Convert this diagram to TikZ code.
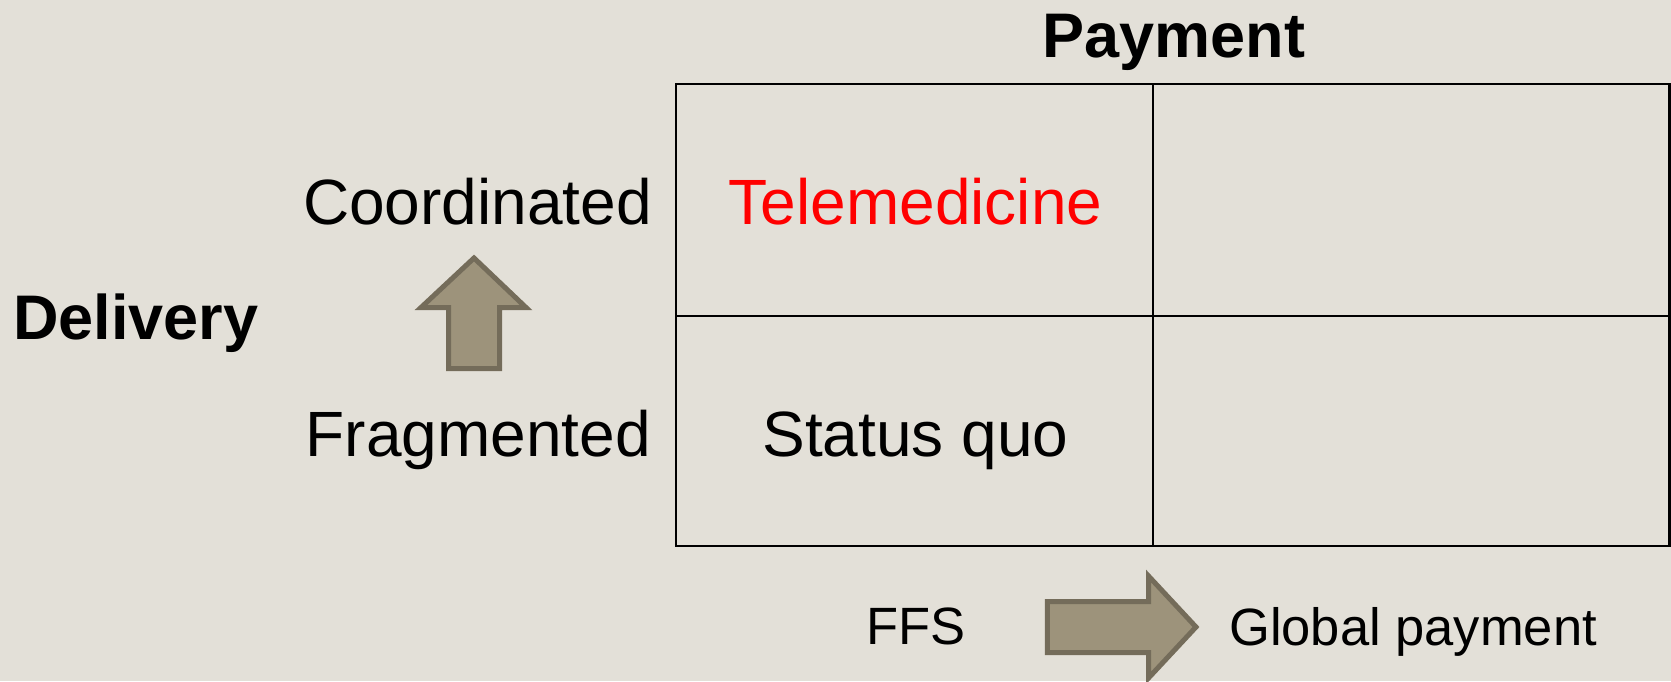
\documentclass[tikz,border=0pt]{standalone}
\usepackage{fontspec}
\setmainfont{Liberation Sans}
\definecolor{bg}{RGB}{227,224,216}
\definecolor{arrowfill}{RGB}{157,147,123}
\definecolor{arrowedge}{RGB}{116,108,90}
\begin{document}
\begin{tikzpicture}[x=1pt,y=-1pt,
  lbl/.style={inner sep=0pt, font=\fontsize{64}{70}\selectfont},
  headlbl/.style={inner sep=0pt, font=\fontsize{63}{70}\selectfont\bfseries},
  axislbl/.style={inner sep=0pt, font=\fontsize{52.5}{60}\selectfont},
  gridline/.style={line width=2.4pt, black},
  blockarrow/.style={fill=arrowfill, draw=arrowedge, line width=5pt, line join=miter, miter limit=10}]
% canvas
\fill[bg] (0,0) rectangle (1671,681);
\useasboundingbox (0,0) rectangle (1671,681);

% 2x2 matrix
\coordinate (tl) at (676,84);
\coordinate (br) at (1669.5,546);
\coordinate (midtop) at (1153,84);
\coordinate (midbot) at (1153,546);
\coordinate (midleft) at (676,316);
\coordinate (midright) at (1669.5,316);
\draw[gridline] (tl) rectangle (br);
\draw[gridline] (midtop) -- (midbot);
\draw[gridline] (midleft) -- (midright);

% axis titles
\node[headlbl, anchor=base] (payment) at (1174,57) {Payment};
\node[headlbl, anchor=base west] (delivery) at (13,339) {Delivery};

% row labels
\node[lbl, anchor=base east] (coord) at (652,224) {Coordinated};
\node[lbl, anchor=base east] (frag) at (651,456) {Fragmented};

% cell contents
\node[lbl, anchor=base, text=red] (tele) at (915.5,224) {Telemedicine};
\node[lbl, anchor=base] (statusquo) at (915.5,456) {Status quo};

% payment axis labels
\node[axislbl, anchor=base] (ffs) at (916,644) {FFS};
\node[axislbl, anchor=base west] (global) at (1229,645) {Global payment};

% block arrow: fragmented -> coordinated
\draw[blockarrow] (448.5,368.5) -- (499.5,368.5) -- (499.5,307.5) -- (526,307.5)
  -- (474,258) -- (421,307.5) -- (448.5,307.5) -- cycle;

% block arrow: FFS -> global payment
\draw[blockarrow] (1047.3,601.5) -- (1148.5,601.5) -- (1148.5,576) -- (1196,627)
  -- (1148.5,678) -- (1148.5,652.5) -- (1047.3,652.5) -- cycle;
\end{tikzpicture}
\end{document}
